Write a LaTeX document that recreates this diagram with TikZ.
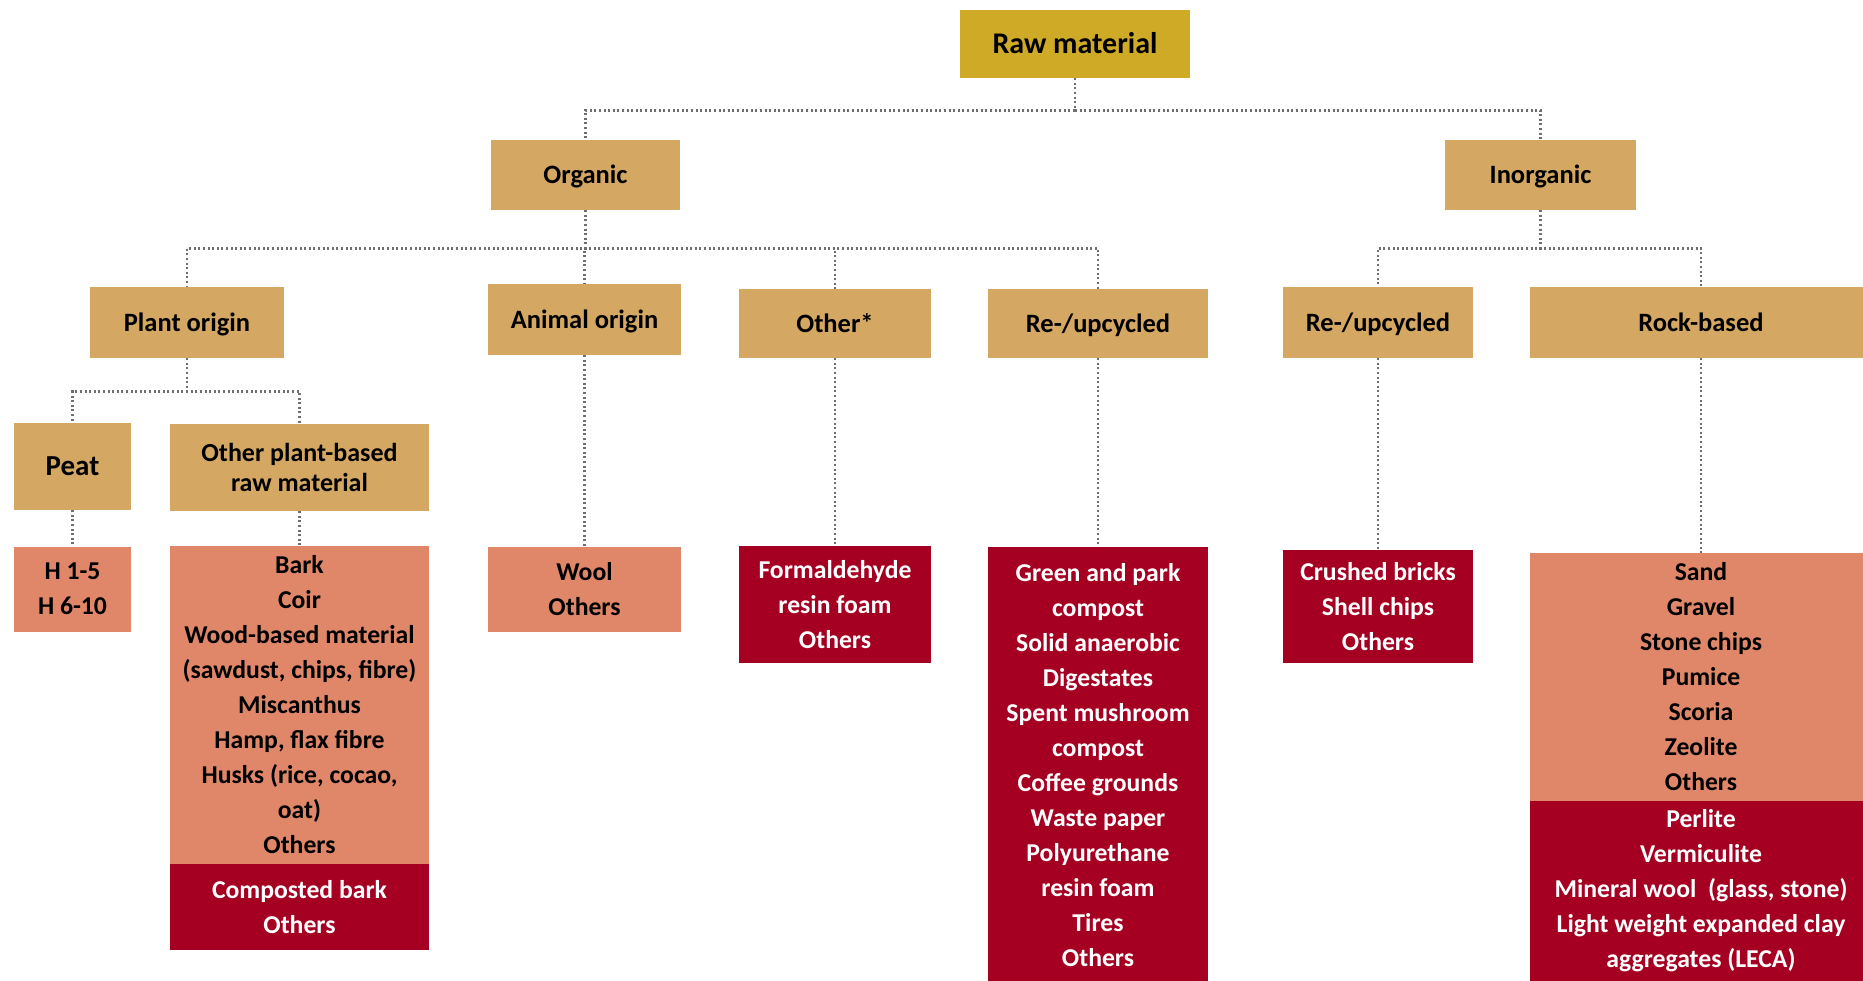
\documentclass[tikz,border=0pt]{standalone}
\usepackage{fontspec}
\setmainfont{Carlito}
\definecolor{gold}{RGB}{207,170,39}
\definecolor{tanbox}{RGB}{212,168,98}
\definecolor{salmon}{RGB}{224,135,106}
\definecolor{wine}{RGB}{165,0,33}
\definecolor{lnk}{RGB}{110,110,110}
\tikzset{
  box/.style={rectangle, inner sep=0pt, align=center, text=black,
    font=\bfseries\fontsize{26.5}{30}\selectfont},
  lvl/.style={box, fill=tanbox, text height=19pt, text depth=2pt},
  lst/.style={box, fill=salmon, font=\bfseries\fontsize{25.7}{35}\selectfont},
  dark/.style={box, fill=wine, text=white, font=\bfseries\fontsize{25.7}{35}\selectfont},
  link/.style={draw=lnk, line width=2.6pt, dash pattern=on 2pt off 2.6pt},
}
\begin{document}
\begin{tikzpicture}[x=1pt,y=-1pt]
\useasboundingbox (0,0) rectangle (1863,980);
% top
\node[box, fill=gold, minimum width=230, minimum height=68, text height=21.3pt, text depth=2pt,
  font=\bfseries\fontsize{30}{34}\selectfont] (raw) at (1075,44) {Raw material};
\node[lvl, minimum width=189, minimum height=70] (org) at (585.5,175) {Organic};
\node[lvl, minimum width=191, minimum height=70] (inorg) at (1540.5,175) {Inorganic};
% second level
\node[lvl, minimum width=194, minimum height=71] (plant) at (187,322.5) {Plant origin};
\node[lvl, minimum width=193, minimum height=71] (animal) at (584.5,319.5) {Animal origin};
\node[lvl, minimum width=192, minimum height=69] (other) at (835,323.5) {Other*};
\node[lvl, minimum width=220, minimum height=69] (reorg) at (1098,323.5) {Re-/upcycled};
\node[lvl, minimum width=190, minimum height=71] (reinorg) at (1378,322.5) {Re-/upcycled};
\node[lvl, minimum width=342, minimum height=71] (rock) at (1701,322.5) {Rock-based};
% third level
\node[lvl, minimum width=117, minimum height=87, text height=20.7pt, text depth=2pt,
  font=\bfseries\fontsize{29}{34}\selectfont] (peat) at (72.5,466.5) {Peat};
\node[box, fill=tanbox, minimum width=259, minimum height=87,
  font=\bfseries\fontsize{26}{30}\selectfont] (oplant) at (299.5,467.5) {Other plant-based\\raw material};
% lists
\node[lst, minimum width=117, minimum height=85] (hbox) at (72.5,589) {H 1-5\\H 6-10};
\node[lst, minimum width=259, minimum height=318] (plantA) at (299.5,705)
  {Bark\\Coir\\Wood-based material\\(sawdust, chips, fibre)\\Miscanthus\\Hamp, flax fibre\\Husks (rice, cocao,\\oat)\\Others};
\node[dark, minimum width=259, minimum height=86] (plantB) at (299.5,907) {Composted bark\\Others};
\node[lst, minimum width=193, minimum height=85] (wool) at (584.5,589) {Wool\\Others};
\node[dark, minimum width=192, minimum height=117] (formal) at (835,604.5) {Formaldehyde\\resin foam\\Others};
\node[dark, minimum width=220, minimum height=436] (green) at (1098,765)
  {Green and park\\compost\\Solid anaerobic\\Digestates\\Spent mushroom\\compost\\Coffee grounds\\Waste paper\\Polyurethane\\resin foam\\Tires\\Others};
\node[dark, minimum width=190, minimum height=113] (crushed) at (1378,606.5) {Crushed bricks\\Shell chips\\Others};
\node[lst, minimum width=342, minimum height=248] (sandA) at (1701,677)
  {Sand\\Gravel\\Stone chips\\Pumice\\Scoria\\Zeolite\\Others};
\node[dark, minimum width=342, minimum height=180] (sandB) at (1701,891)
  {Perlite\\Vermiculite\\Mineral wool\ \ (glass, stone)\\Light weight expanded clay\\aggregates (LECA)};
% connectors
\draw[link] (raw.south) -- ++(0,32) -| (org.north);
\draw[link] (raw.south) -- ++(0,32) -| (inorg.north);
\foreach \t in {plant,animal,other,reorg}
  \draw[link] (org.south) -- ++(0,38) -| (\t.north);
\foreach \t in {reinorg,rock}
  \draw[link] (inorg.south) -- ++(0,38) -| (\t.north);
\foreach \t in {peat,oplant}
  \draw[link] (plant.south) -- ++(0,33) -| (\t.north);
\draw[link] (peat.south) -- (hbox.north);
\draw[link] (oplant.south) -- (plantA.north);
\draw[link] (animal.south) -- (wool.north);
\draw[link] (other.south) -- (formal.north);
\draw[link] (reorg.south) -- (green.north);
\draw[link] (reinorg.south) -- (crushed.north);
\draw[link] (rock.south) -- (sandA.north);
\end{tikzpicture}
\end{document}
